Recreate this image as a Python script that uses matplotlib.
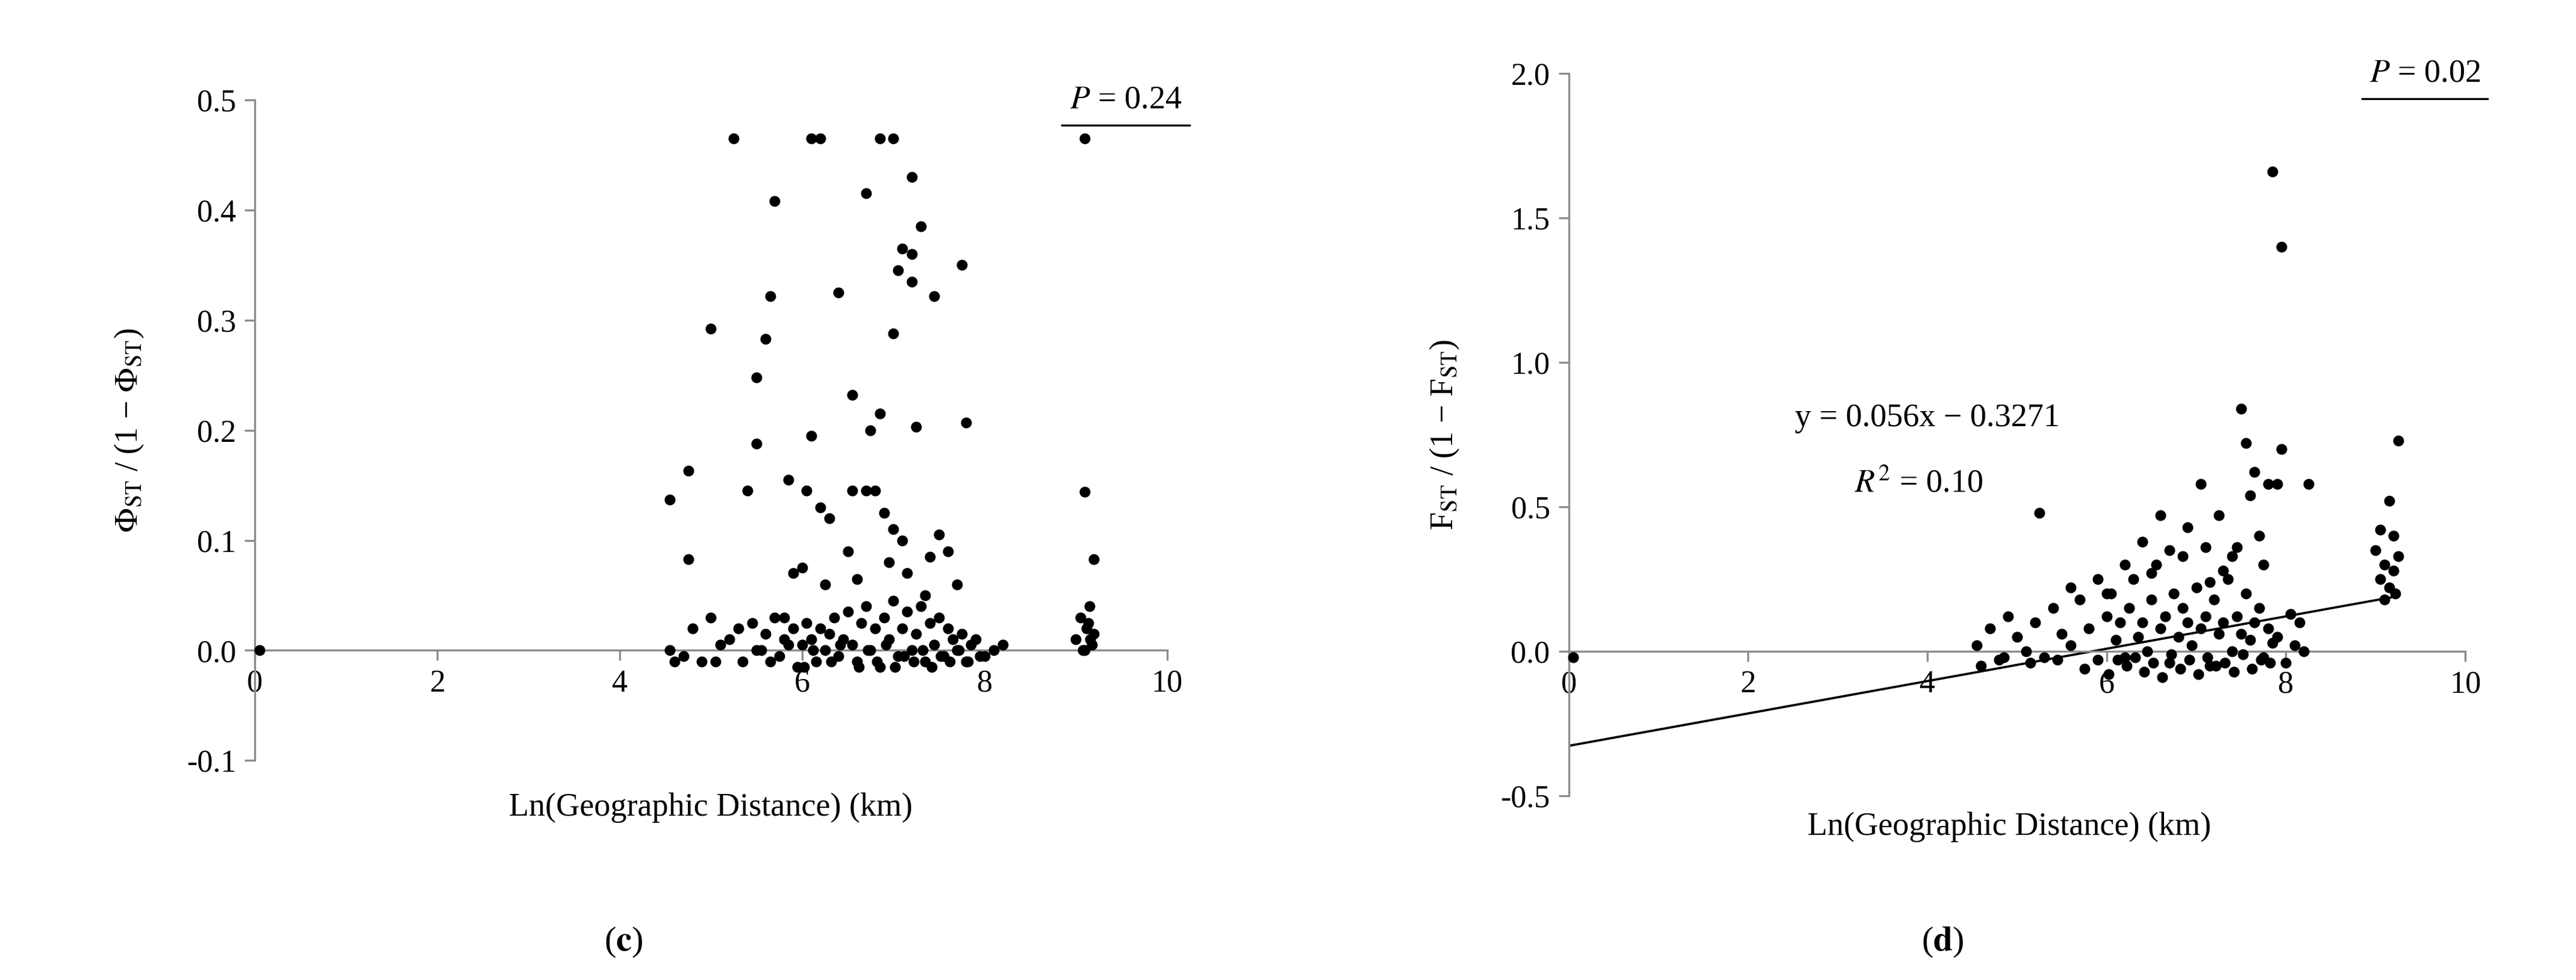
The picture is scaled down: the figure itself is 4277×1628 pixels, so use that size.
import matplotlib
matplotlib.use("Agg")
import matplotlib.pyplot as plt
from matplotlib.lines import Line2D

plt.rcParams['font.family'] = ['Liberation Serif', 'DejaVu Serif']
plt.rcParams['mathtext.fontset'] = 'stix'

# Panel (c)
c_out_x = [5.25,6.1,6.2,6.85,7.0,9.1,5.7,6.7,7.2,7.3,7.1,7.2,7.05,7.2,7.75,7.45,5.65,6.4,5.0,5.6,7.0,5.5,6.55,6.1,6.85,6.75,7.25,7.8,5.5,4.75,4.55,5.85,5.4,6.05,6.2,6.55,6.7,6.8,9.1,4.75,9.2,0.05,
           6.9,7.0,7.1,7.5,7.6,6.3,6.5,6.0,5.9,7.4,7.7,6.95,6.6,6.25,7.15,7.35,5.8]
c_out_y = [0.465,0.465,0.465,0.465,0.465,0.465,0.408,0.415,0.43,0.385,0.365,0.36,0.345,0.335,0.35,0.322,0.322,0.325,0.292,0.283,0.288,0.248,0.232,0.195,0.215,0.2,0.203,0.207,0.188,0.163,0.137,0.155,0.145,0.145,0.13,0.145,0.145,0.145,0.144,0.083,0.083,0.0,
           0.125,0.11,0.1,0.105,0.09,0.12,0.09,0.075,0.07,0.085,0.06,0.08,0.065,0.06,0.07,0.05,0.03]
c_clu_x = [4.55,4.7,4.8,4.9,5.0,5.1,5.2,5.3,5.35,5.45,5.55,5.6,5.7,5.75,5.8,5.9,5.95,6.0,6.05,6.1,6.15,6.2,6.25,6.3,6.35,6.4,6.45,6.5,6.55,6.6,6.65,6.7,6.75,6.8,6.85,6.9,6.95,7.0,7.05,7.1,7.15,7.2,7.25,7.3,7.35,7.4,7.45,7.5,7.55,7.6,7.65,7.7,7.75,7.8,7.85,7.9,8.0,8.1,8.2,
           4.6,5.05,5.5,5.65,5.85,6.02,6.12,6.32,6.42,6.62,6.72,6.82,6.92,7.02,7.12,7.22,7.32,7.42,7.52,7.62,7.72,7.82,7.95,
           9.0,9.05,9.1,9.12,9.15,9.18,9.2,9.08,9.14,9.16]
c_clu_y = [0.0,-0.005,0.02,-0.01,0.03,0.005,0.01,0.02,-0.01,0.025,0.0,0.015,0.03,-0.005,0.01,0.02,-0.015,0.005,0.025,0.01,-0.01,0.02,0.0,0.015,0.03,-0.005,0.01,0.035,0.005,-0.01,0.025,0.04,0.0,0.02,-0.015,0.03,0.01,0.045,-0.005,0.02,0.035,0.0,0.015,0.04,-0.01,0.025,0.005,0.03,-0.005,0.02,0.01,0.0,0.015,-0.01,0.005,0.01,-0.005,0.0,0.005,
           -0.01,-0.01,0.0,-0.01,0.005,-0.015,0.0,-0.01,0.005,-0.015,0.0,-0.01,0.005,-0.015,-0.005,-0.01,0.0,-0.015,-0.005,-0.01,0.0,-0.01,-0.005,
           0.01,0.03,0.0,0.02,0.04,0.005,0.015,0.0,0.025,0.01]

# Panel (d)
d_out_x = [7.85,7.95,7.5,7.55,7.65,7.8,7.9,7.95,8.25,7.6,5.25,7.05,6.6,7.25,6.9,9.25,9.15,9.05,9.0,9.1,9.2,9.15,9.1,9.2,9.25,0.05,
           6.4,6.7,7.1,7.4,7.7,6.2,5.9,7.3,7.75,8.05,6.5,6.0,5.6,7.15,7.45,6.85,8.15,9.05,9.22]
d_out_y = [1.66,1.40,0.84,0.72,0.62,0.58,0.58,0.70,0.58,0.54,0.48,0.58,0.47,0.47,0.43,0.73,0.52,0.42,0.35,0.30,0.28,0.22,0.18,0.40,0.33,-0.02,
           0.38,0.35,0.36,0.33,0.40,0.30,0.25,0.28,0.30,0.13,0.27,0.2,0.22,0.24,0.36,0.33,0.1,0.25,0.2]
d_clu_x = [4.55,4.7,4.8,4.9,5.0,5.1,5.2,5.3,5.4,5.5,5.6,5.7,5.8,5.9,6.0,6.05,6.1,6.15,6.2,6.25,6.3,6.35,6.4,6.45,6.5,6.55,6.6,6.65,6.7,6.75,6.8,6.85,6.9,6.95,7.0,7.05,7.1,7.15,7.2,7.25,7.3,7.35,7.4,7.45,7.5,7.55,7.6,7.65,7.7,7.75,7.8,7.85,7.9,8.0,8.1,8.2,
           4.6,4.85,5.15,5.45,5.75,6.02,6.22,6.42,6.62,6.82,7.02,7.22,7.42,7.62,7.82,6.12,6.32,6.52,6.72,6.92,7.12,7.32,7.52,7.72]
d_clu_y = [0.02,0.08,-0.03,0.12,0.05,0.0,0.1,-0.02,0.15,0.06,0.02,0.18,0.08,-0.03,0.12,0.2,0.04,0.1,-0.02,0.15,0.25,0.05,0.1,0.0,0.18,0.3,0.08,0.12,-0.04,0.2,0.05,0.15,0.1,0.02,0.22,0.08,0.12,-0.05,0.18,0.06,0.1,0.25,0.0,0.12,0.06,0.2,0.04,0.1,0.15,-0.02,0.08,0.03,0.05,-0.04,0.02,0.0,
           -0.05,-0.02,-0.04,-0.03,-0.06,-0.08,-0.05,-0.07,-0.09,-0.06,-0.08,-0.05,-0.07,-0.06,-0.04,-0.03,-0.02,-0.04,-0.01,-0.03,-0.02,-0.04,-0.01,-0.03]
slope, intercept = 0.056, -0.3271

fig = plt.figure(figsize=(14.257, 5.427), dpi=300)
axc = fig.add_axes([0.099, 0.224, 0.354, 0.674])
axd = fig.add_axes([0.609, 0.188, 0.348, 0.737])

def style(ax, ylim, yticks, yfmt):
    ax.set_xlim(0, 10)
    ax.set_ylim(*ylim)
    ax.set_xticks([0, 2, 4, 6, 8, 10])
    ax.set_yticks(yticks)
    ax.set_yticklabels([yfmt.format(v) for v in yticks])
    for s in ['top', 'right']:
        ax.spines[s].set_visible(False)
    ax.spines['bottom'].set_position(('data', 0))
    for s in ['bottom', 'left']:
        ax.spines[s].set_color('#8c8c8c')
        ax.spines[s].set_linewidth(0.8)
    ax.tick_params(axis='both', labelsize=12.5, color='#8c8c8c', length=4, direction='out')
    ax.patch.set_visible(False)

style(axc, (-0.1, 0.5), [-0.1, 0, 0.1, 0.2, 0.3, 0.4, 0.5], '{:.1f}')
style(axd, (-0.5, 2.0), [-0.5, 0, 0.5, 1.0, 1.5, 2.0], '{:.1f}')

for ax, xs, ys in [(axc, c_out_x + c_clu_x, c_out_y + c_clu_y), (axd, d_out_x + d_clu_x, d_out_y + d_clu_y)]:
    ax.scatter(xs, ys, s=11, color='black', zorder=3, clip_on=False)

lx = [0, 9.25]
axd.plot(lx, [slope * v + intercept for v in lx], color='black', lw=0.9, zorder=2)

axc.set_ylabel(r'$\Phi_{\rm ST}$ / (1 − $\Phi_{\rm ST}$)', fontsize=13)
axd.set_ylabel(r'F$_{\rm ST}$ / (1 − F$_{\rm ST}$)', fontsize=13)
axc.yaxis.set_label_coords(-0.12, 0.5)
axd.yaxis.set_label_coords(-0.12, 0.5)

for ax, txt, ly in [(axc, r'$P$ = 0.24', 0.962), (axd, r'$P$ = 0.02', 0.965)]:
    ax.text(0.955, 1.0, txt, transform=ax.transAxes, ha='center', va='center', fontsize=13)
    ax.add_line(Line2D([0.885, 1.025], [ly, ly], transform=ax.transAxes, color='black', lw=0.8, clip_on=False))

axd.text(4.0, 0.78, 'y = 0.056x − 0.3271', ha='center', fontsize=13)
axd.text(3.9, 0.55, r'$R^2$ = 0.10', ha='center', fontsize=13)

fig.text(0.276, 0.168, 'Ln(Geographic Distance) (km)', ha='center', fontsize=13)
fig.text(0.78, 0.148, 'Ln(Geographic Distance) (km)', ha='center', fontsize=13)
fig.text(0.242, 0.03, r'($\mathbf{c}$)', ha='center', fontsize=14)
fig.text(0.754, 0.03, r'($\mathbf{d}$)', ha='center', fontsize=14)

fig.savefig('out.png', dpi=300)
